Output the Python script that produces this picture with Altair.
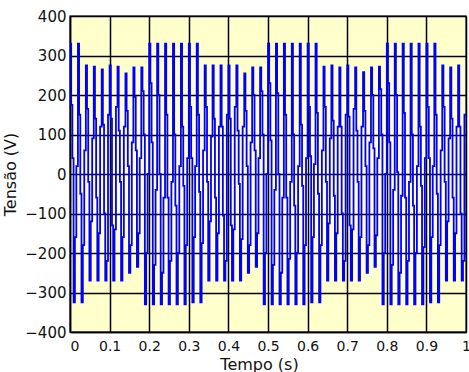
import altair as alt
import pandas as pd

# ---- data (one entry per 50 Hz cycle, 50 cycles) ----
period = 0.02
tops = [330, 330, 275, 272, 265, 275, 272, 255, 270, 270,
        330, 330, 330, 330, 330, 330, 330, 275, 275, 275,
        275, 275, 255, 270, 270, 330, 330, 330, 330, 330,
        330, 330, 272, 275, 270, 275, 270, 258, 270, 272,
        330, 330, 330, 330, 330, 330, 330, 275, 270, 275]
upper_1 = [175, 150, 165, 140, 125, 140, 110, 160, 195, 210,
           230, 200, 150, 100, 120, 170, 150, 170, 140, 120,
           140, 110, 160, 200, 210, 230, 205, 150, 100, 125,
           170, 155, 170, 135, 120, 145, 110, 160, 200, 215,
           230, 200, 155, 100, 120, 170, 150, 170, 140, 120]
upper_2 = [40, -50, -20, -60, -100, -130, -20, 20, 60, 100,
           80, 0, -60, -80, -30, 40, -45, -20, -60, -105,
           -130, -25, 20, 60, 100, 85, 0, -60, -80, -30,
           45, -50, -20, -55, -100, -130, -20, 20, 65, 100,
           80, 5, -60, -80, -30, 40, -50, -20, -60, -100]
bottoms = [-325, -325, -270, -270, -270, -270, -270, -250, -235, -330,
           -330, -330, -330, -330, -330, -325, -325, -270, -270, -270,
           -270, -270, -250, -235, -330, -330, -330, -330, -330, -330,
           -325, -325, -270, -270, -270, -270, -270, -250, -235, -330,
           -330, -330, -330, -330, -330, -325, -325, -270, -270, -270]
lower_1 = [-160, -180, -120, -150, -220, -140, -160, -180, -150, -200,
           -230, -250, -220, -200, -180, -160, -175, -120, -150, -220,
           -140, -165, -180, -150, -200, -230, -250, -215, -200, -180,
           -160, -180, -125, -150, -220, -140, -160, -180, -155, -200,
           -230, -250, -220, -200, -185, -160, -180, -120, -150, -220]
lower_2 = [20, 60, 90, 120, 150, 170, 120, 80, 40, 0,
           -40, -60, -20, 20, 40, 20, 60, 95, 120, 150,
           170, 120, 80, 40, 0, -40, -60, -20, 20, 40,
           25, 60, 90, 120, 150, 165, 120, 80, 40, 0,
           -40, -55, -20, 20, 40, 20, 60, 90, 120, 150]
step_fracs = [0.0, 0.15, 0.3, 0.45, 0.62, 0.8]

x_ticks = [0, 0.1, 0.2, 0.3, 0.4, 0.5, 0.6, 0.7, 0.8, 0.9, 1]
y_ticks = [-400, -300, -200, -100, 0, 100, 200, 300, 400]

rows = []
for k in range(len(tops)):
    levels = [tops[k], upper_1[k], upper_2[k], bottoms[k], lower_1[k], lower_2[k]]
    for f, v in zip(step_fracs, levels):
        rows.append({"t": (k + f) * period, "v": v})
rows.append({"t": 1.0, "v": lower_2[-1]})
df = pd.DataFrame(rows)

FONT = "DejaVu Sans"

chart = (
    alt.Chart(df)
    .mark_line(interpolate="step-after", color="#0000FF", strokeWidth=1.8, clip=True)
    .encode(
        x=alt.X(
            "t:Q",
            scale=alt.Scale(domain=[0, 1], nice=False, zero=False),
            axis=alt.Axis(
                values=x_ticks,
                format="~g",
                title="Tempo (s)",
                titleX=189,
                titlePadding=3,
                labelPadding=7,
                labelFontSize=14,
                labelAlign=alt.condition("datum.value == 0", alt.value("left"), alt.value("center")),
            ),
        ),
        y=alt.Y(
            "v:Q",
            scale=alt.Scale(domain=[-400, 400], nice=False),
            axis=alt.Axis(
                values=y_ticks,
                title="Tensão (V)",
                titlePadding=6,
                labelPadding=4,
            ),
        ),
    )
    .properties(
        width=396,
        height=316,
        autosize=alt.AutoSizeParams(type="none"),
        padding={"left": 70, "top": 16, "right": 3, "bottom": 40},
        background="white",
    )
    .configure_view(fill="#FFFFCC", stroke="#555555", strokeWidth=1.5)
    .configure_axis(
        grid=True,
        gridColor="#000000",
        gridWidth=1.5,
        gridOpacity=1,
        domainColor="#000000",
        domainWidth=1.5,
        ticks=False,
        labelFont=FONT,
        labelFontSize=15,
        labelColor="#111111",
        titleFont=FONT,
        titleFontSize=16,
        titleFontWeight="normal",
        titleColor="#111111",
        zindex=1,
    )
)

chart.save("out.html", embed_options={"renderer": "svg", "actions": False})
